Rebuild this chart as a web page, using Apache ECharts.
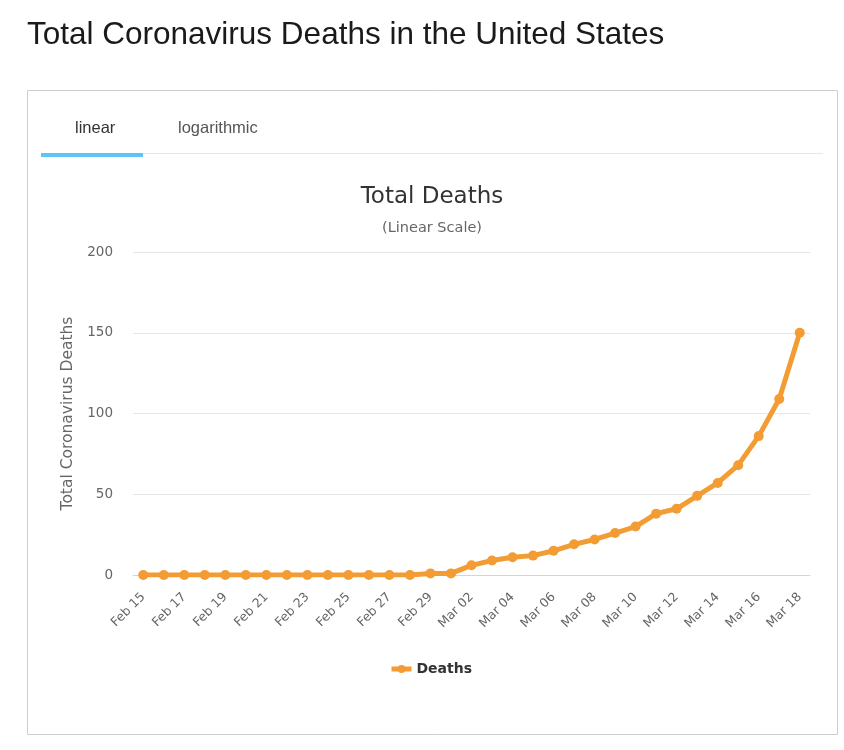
<!DOCTYPE html>
<html>
<head>
<meta charset="utf-8">
<script src="https://cdn.jsdelivr.net/npm/echarts@6/dist/echarts.min.js"></script>
<style>
  html, body { margin: 0; padding: 0; background: #fff; }
  #main { width: 844px; height: 750px; }
</style>
</head>
<body>
<div id="main"></div>
<script>
// daily totals, Feb 15 - Mar 18
var days = ['Feb 15','Feb 16','Feb 17','Feb 18','Feb 19','Feb 20','Feb 21','Feb 22','Feb 23','Feb 24',
    'Feb 25','Feb 26','Feb 27','Feb 28','Feb 29','Mar 01','Mar 02','Mar 03','Mar 04','Mar 05',
    'Mar 06','Mar 07','Mar 08','Mar 09','Mar 10','Mar 11','Mar 12','Mar 13','Mar 14','Mar 15',
    'Mar 16','Mar 17','Mar 18'];
var deaths = [0,0,0,0,0,0,0,0,0,0,0,0,0,0,1,1,6,9,11,12,15,19,22,26,30,38,41,49,57,68,86,109,150];
var yTicks = [0, 50, 100, 150, 200];
var tabs = ['linear', 'logarithmic'];

var chartFont = 'DejaVu Sans';
var orange = '#f39c33';

var myChart = echarts.init(document.getElementById('main'));
var option = {
    animation: false,
    graphic: [
        {
            type: 'text', left: 27, top: 19,
            style: { text: 'Total Coronavirus Deaths in the United States', fontFamily: 'Liberation Sans', fontSize: 31.5, fill: '#1a1a1a' }
        },
        {
            type: 'rect', shape: { x: 27.5, y: 90.5, width: 810, height: 644 },
            style: { fill: 'none', stroke: '#cfcfcf', lineWidth: 1 }
        },
        {
            type: 'rect', shape: { x: 41, y: 153, width: 782, height: 1 },
            style: { fill: '#e8e8e8' }
        },
        {
            type: 'rect', shape: { x: 41, y: 153, width: 102, height: 4 },
            style: { fill: '#5bc6f5' }
        },
        {
            type: 'text', left: 75, top: 120,
            style: { text: tabs[0], fontFamily: 'Liberation Sans', fontSize: 16.5, fill: '#333' }
        },
        {
            type: 'text', left: 178, top: 120,
            style: { text: tabs[1], fontFamily: 'Liberation Sans', fontSize: 16.5, fill: '#555' }
        },
        {
            type: 'text', x: 432, y: 197,
            style: { text: 'Total Deaths', fontFamily: chartFont, fontSize: 23, fill: '#333', align: 'center', verticalAlign: 'middle' }
        },
        {
            type: 'text', x: 432, y: 228,
            style: { text: '(Linear Scale)', fontFamily: chartFont, fontSize: 14.5, fill: '#666', align: 'center', verticalAlign: 'middle' }
        }
    ],
    legend: {
        top: 657,
        left: 384,
        itemWidth: 20,
        itemHeight: 10,
        itemGap: 8,
        lineStyle: { width: 5 },
        textStyle: { fontFamily: chartFont, fontSize: 14, fontWeight: 'bold', color: '#333' },
        data: ['Deaths']
    },
    grid: {
        left: 133,
        right: 34,
        top: 252,
        bottom: 175
    },
    xAxis: {
        type: 'category',
        data: days,
        boundaryGap: true,
        axisLine: { show: true, lineStyle: { color: '#ccd6eb' } },
        axisTick: { show: false },
        axisLabel: {
            interval: 1,
            rotate: 45,
            margin: 20,
            fontFamily: chartFont,
            fontSize: 12.5,
            color: '#666'
        }
    },
    yAxis: {
        type: 'value',
        min: yTicks[0],
        max: yTicks[yTicks.length - 1],
        interval: 50,
        name: 'Total Coronavirus Deaths',
        nameLocation: 'middle',
        nameGap: 52,
        nameTextStyle: { fontFamily: chartFont, fontSize: 15.5, color: '#666' },
        axisLine: { show: false },
        axisTick: { show: false },
        axisLabel: { fontFamily: chartFont, fontSize: 13.5, color: '#666', margin: 20 },
        splitLine: { lineStyle: { color: '#e6e6e6' } }
    },
    series: [
        {
            name: 'Deaths',
            type: 'line',
            data: deaths,
            symbol: 'circle',
            symbolSize: 10,
            lineStyle: { width: 5, color: orange },
            itemStyle: { color: orange }
        }
    ]
};

myChart.setOption(option);
</script>
</body>
</html>
